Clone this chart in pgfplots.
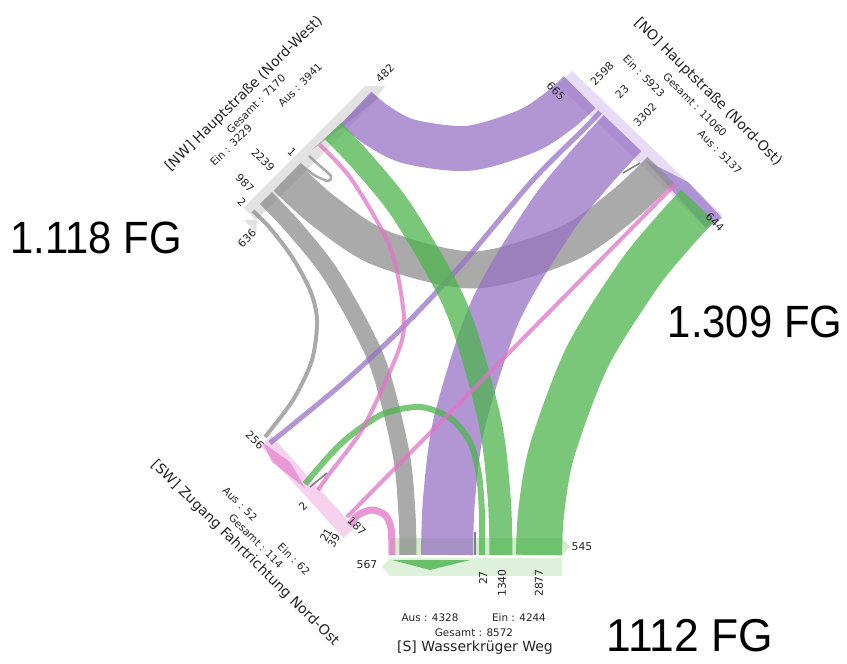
\documentclass[border=0pt]{standalone}
\usepackage{pgfplots}
\pgfplotsset{compat=1.18}
\usepackage{fontspec}
\setmainfont{DejaVu Sans}
\newfontfamily\lib{Liberation Sans}
\definecolor{rgray}{RGB}{141,141,141}
\definecolor{rpurple}{RGB}{152,115,198}
\definecolor{rgreen}{RGB}{78,180,78}
\definecolor{rpink}{RGB}{224,115,198}
\definecolor{bgray}{RGB}{226,226,226}
\definecolor{bpurple}{RGB}{232,220,244}
\definecolor{bpink}{RGB}{246,210,238}
\definecolor{bgreen}{RGB}{210,236,205}
\definecolor{bgreenl}{RGB}{222,241,218}
\definecolor{txt}{RGB}{35,35,35}
\tikzset{
 rib/.style={line width=#1*0.75pt, draw opacity=0.75},
 bar/.style={line width=#1*0.75pt},
 num/.style={font=\fontsize{8.1}{9}\selectfont, text=txt, inner sep=0pt},
 stat/.style={font=\fontsize{7.8}{9}\selectfont, text=txt, inner sep=0pt},
 ttl/.style={font=\fontsize{10.5}{12}\selectfont, text=txt, inner sep=0pt},
 big/.style={font=\lib\fontsize{32}{34}\selectfont, text=black, inner sep=0pt},
}
\begin{document}
\begin{tikzpicture}
\begin{axis}[x=0.75pt, y=0.75pt, xmin=0, xmax=847, ymin=0, ymax=664,
  y dir=reverse, hide axis, clip=false, no markers]
% frame that fixes the picture's extent
\addplot[draw=none] coordinates {(0,0) (847,0) (847,664) (0,664)};
% ---- arm bars
\addplot[bar=18, draw=bgray] coordinates {(250,214) (372,92)};
\addplot[bar=20, draw=bpurple] coordinates {(565,78) (715,222)};
\addplot[bar=15, draw=bpink] coordinates {(266,441) (349,533)};
\addplot[bar=17, draw=bgreen] coordinates {(390,546.5) (562,546.5)};
\addplot[bar=18, draw=bgreenl] coordinates {(390,567) (562,567)};
\addplot[fill=bgreen, draw=none] coordinates {(562,538) (570,546.5) (562,555)} -- cycle;
\addplot[fill=bgreenl, draw=none] coordinates {(390,558) (382,567) (390,576)} -- cycle;
\addplot[fill=bgray, draw=none] coordinates {(367,86) (385,86) (377,97)} -- cycle;
\addplot[fill=bgray, draw=none] coordinates {(244,220) (256,233) (257,220)} -- cycle;
% ---- direction wedges
\addplot[fill=rgray, fill opacity=0.6, draw=none] coordinates {(312,150) (350,115) (372,93) (378,98) (345,125)} -- cycle;
\addplot[fill=rpurple, fill opacity=0.7, draw=none] coordinates {(645,160) (688,182) (722,218) (706,228)} -- cycle;
\addplot[fill=rpink, fill opacity=0.6, draw=none] coordinates {(263,443) (272,462) (305,488) (290,462)} -- cycle;
\addplot[fill=rgreen, fill opacity=0.8, draw=none] coordinates {(392,560) (470,560) (430,570)} -- cycle;
% ---- flows from NW (gray)
\addplot[rib=37, smooth, draw=rgray] coordinates {(286.5,177.5) (324.6,211.8) (381.2,248.3) (474.6,270) (567.6,243.7) (623.4,205) (660.7,169.8)};
\addplot[rib=17, smooth, draw=rgray] coordinates {(266,198) (295.7,229.7) (332.9,277.5) (376.8,360.5) (400.7,451.7) (406.9,512.4) (408,555)};
\addplot[rib=4, smooth, draw=rgray] coordinates {(253,211) (270,228) (292,257) (310,290) (317,320) (312,360) (293,400) (265,437)};
\addplot[rib=2.5, smooth, draw=rgray] coordinates {(300,164) (314,175) (328,181) (331,176) (320,166) (309,156)};
% ---- flows from NO (purple)
\addplot[rib=45, smooth, draw=rpurple] coordinates {(356,108) (376.1,124.7) (409,141.5) (468.4,148.3) (527.3,130.9) (559.9,110) (579.6,92.1)};
\addplot[rib=52, smooth, draw=rpurple] coordinates {(622.5,133.2) (592.3,166) (551.3,216.8) (495.8,310.2) (459.8,420.8) (449.1,498.4) (447,555)};
\addplot[rib=5, smooth, draw=rpurple] coordinates {(600,112) (585,128) (533,180) (463,263) (403,327) (343,383) (270,443)};
% ---- flows from S (green)
\addplot[rib=46, smooth, draw=rgreen] coordinates {(539,555) (541.2,512.1) (552.2,450.2) (587.3,357) (638,275.7) (673.3,232.3) (697.9,205.5)};
\addplot[rib=23, smooth, draw=rgreen] coordinates {(501,555) (499.2,498.3) (489.6,420.1) (456.7,308.3) (404,214.1) (363.5,163.3) (333,131)};
\addplot[rib=6, smooth, draw=rgreen] coordinates {(305,484) (330,455) (350,436) (383,414) (420,407) (450,418) (470,442) (479,475) (482,515) (482,555)};
% ---- flows from SW (pink)
\addplot[rib=4, smooth, draw=rpink] coordinates {(319.5,144.5) (352,180) (390,247) (403,307) (402,340) (383,387) (360,433) (330,473) (318,490)};
\addplot[rib=4, draw=rpink] coordinates {(347,517) (675.4,184)};
\addplot[rib=7, smooth, draw=rpink] coordinates {(350,525) (358,515) (372,510) (385,515) (391,528) (392,555)};
% ---- u-turn markers
\addplot[line width=1.2pt, draw=gray] coordinates {(623,173) (640,163)};
\addplot[line width=1.2pt, draw=gray] coordinates {(475,532) (475,555)};
\addplot[line width=1.2pt, draw=gray] coordinates {(310,487) (327,473)};
% ---- NW labels
\node[ttl, rotate=44.5] at (axis cs:244,94) {[NW] Hauptstraße (Nord-West)};
\node[stat, rotate=45] at (axis cs:256,104) {Gesamt : 7170};
\node[stat, rotate=45] at (axis cs:231,145) {Ein : 3229};
\node[stat, rotate=45] at (axis cs:300,85) {Aus : 3941};
\node[num, rotate=-45] at (axis cs:263,160) {2239};
\node[num, rotate=-45] at (axis cs:292,152) {1};
\node[num, rotate=-45] at (axis cs:245,183) {987};
\node[num, rotate=-45] at (axis cs:242,202) {2};
\node[num, rotate=45] at (axis cs:385,73) {482};
\node[num, rotate=45] at (axis cs:247,238) {636};
% ---- NO labels
\node[ttl, rotate=-45] at (axis cs:708,92) {[NO] Hauptstraße (Nord-Ost)};
\node[stat, rotate=-45] at (axis cs:644,76) {Ein : 5923};
\node[stat, rotate=-45] at (axis cs:695,105) {Gesamt : 11060};
\node[stat, rotate=-45] at (axis cs:720,152) {Aus : 5137};
\node[num, rotate=45] at (axis cs:602,74) {2598};
\node[num, rotate=45] at (axis cs:622,92) {23};
\node[num, rotate=45] at (axis cs:645,115) {3302};
\node[num, rotate=-45] at (axis cs:556,91) {665};
\node[num, rotate=-45] at (axis cs:715,222) {644};
% ---- SW labels
\node[ttl, rotate=-44.6] at (axis cs:245,553) {[SW] Zugang Fahrtrichtung Nord-Ost};
\node[stat, rotate=-45] at (axis cs:240,504) {Aus : 52};
\node[stat, rotate=-45] at (axis cs:256,541) {Gesamt : 114};
\node[stat, rotate=-45] at (axis cs:294,559) {Ein : 62};
\node[num, rotate=-45] at (axis cs:255,440) {256};
\node[num, rotate=45] at (axis cs:303,506) {2};
\node[num, rotate=-45] at (axis cs:357,526) {187};
\node[num, rotate=60] at (axis cs:326,535) {21};
\node[num, rotate=60] at (axis cs:334,541) {39};
% ---- S labels
\node[num] at (axis cs:367,565) {567};
\node[num] at (axis cs:582,547) {545};
\node[num, rotate=90] at (axis cs:483,578) {27};
\node[num, rotate=90] at (axis cs:502,583) {1340};
\node[num, rotate=90] at (axis cs:539,583) {2877};
\node[stat] at (axis cs:430,618) {Aus : 4328};
\node[stat] at (axis cs:519,618) {Ein : 4244};
\node[stat] at (axis cs:474,633) {Gesamt : 8572};
\node[ttl] at (axis cs:475,648) {[S] Wasserkrüger Weg};
% ---- big annotations
\node[big] at (axis cs:96,238) {\scalebox{0.98}[1.06]{1.118 FG}};
\node[big] at (axis cs:755,322) {\scalebox{0.98}[1.06]{1.309 FG}};
\node[big] at (axis cs:690,636) {\scalebox{1.04}[1.08]{1112 FG}};
\end{axis}
\end{tikzpicture}
\end{document}
